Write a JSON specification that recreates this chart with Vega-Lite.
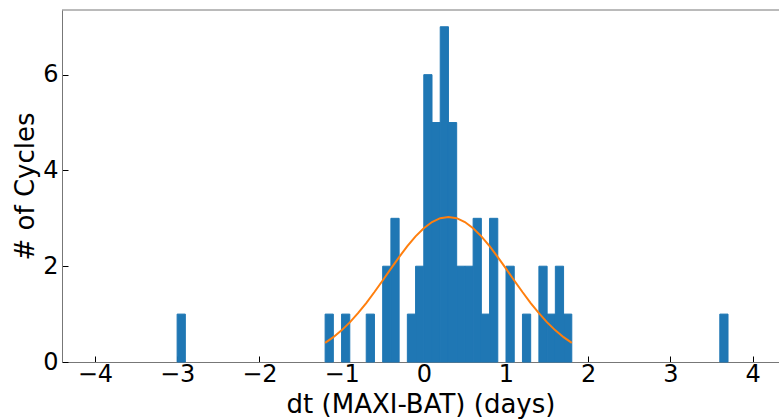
{
  "$schema": "https://vega.github.io/schema/vega-lite/v6.json",
  "autosize": {"type": "none"},
  "width": 717,
  "height": 352,
  "padding": {"left": 62, "top": 10, "right": 0, "bottom": 57},
  "background": "white",
  "config": {
    "view": {"stroke": null},
    "font": "DejaVu Sans",
    "axis": {
      "grid": false,
      "domainColor": "#777777",
      "domainWidth": 1,
      "tickColor": "#000000",
      "tickSize": -6,
      "tickWidth": 1,
      "labelFont": "DejaVu Sans",
      "labelFontSize": 24,
      "labelColor": "#000000",
      "titleFont": "DejaVu Sans",
      "titleFontSize": 26,
      "titleFontWeight": "normal",
      "titleColor": "#000000"
    }
  },
  "datasets": {
    "bins": [
      {"x0": -3.0, "x1": -2.9, "count": 1},
      {"x0": -1.2, "x1": -1.1, "count": 1},
      {"x0": -1.0, "x1": -0.9, "count": 1},
      {"x0": -0.7, "x1": -0.6, "count": 1},
      {"x0": -0.5, "x1": -0.4, "count": 2},
      {"x0": -0.4, "x1": -0.3, "count": 3},
      {"x0": -0.2, "x1": -0.1, "count": 1},
      {"x0": -0.1, "x1": 0.0, "count": 2},
      {"x0": 0.0, "x1": 0.1, "count": 6},
      {"x0": 0.1, "x1": 0.2, "count": 5},
      {"x0": 0.2, "x1": 0.3, "count": 7},
      {"x0": 0.3, "x1": 0.4, "count": 5},
      {"x0": 0.4, "x1": 0.5, "count": 2},
      {"x0": 0.5, "x1": 0.6, "count": 2},
      {"x0": 0.6, "x1": 0.7, "count": 3},
      {"x0": 0.7, "x1": 0.8, "count": 1},
      {"x0": 0.8, "x1": 0.9, "count": 3},
      {"x0": 1.0, "x1": 1.1, "count": 2},
      {"x0": 1.2, "x1": 1.3, "count": 1},
      {"x0": 1.4, "x1": 1.5, "count": 2},
      {"x0": 1.5, "x1": 1.6, "count": 1},
      {"x0": 1.6, "x1": 1.7, "count": 2},
      {"x0": 1.7, "x1": 1.8, "count": 1},
      {"x0": 3.6, "x1": 3.7, "count": 1}
    ],
    "fit": [
      {"x": -1.2, "y": 0.399},
      {"x": -1.1, "y": 0.518},
      {"x": -1.0, "y": 0.661},
      {"x": -0.9, "y": 0.828},
      {"x": -0.8, "y": 1.019},
      {"x": -0.7, "y": 1.231},
      {"x": -0.6, "y": 1.461},
      {"x": -0.5, "y": 1.702},
      {"x": -0.4, "y": 1.949},
      {"x": -0.3, "y": 2.191},
      {"x": -0.2, "y": 2.419},
      {"x": -0.1, "y": 2.623},
      {"x": 0.0, "y": 2.794},
      {"x": 0.1, "y": 2.923},
      {"x": 0.2, "y": 3.003},
      {"x": 0.3, "y": 3.03},
      {"x": 0.4, "y": 3.003},
      {"x": 0.5, "y": 2.923},
      {"x": 0.6, "y": 2.794},
      {"x": 0.7, "y": 2.623},
      {"x": 0.8, "y": 2.419},
      {"x": 0.9, "y": 2.191},
      {"x": 1.0, "y": 1.949},
      {"x": 1.1, "y": 1.702},
      {"x": 1.2, "y": 1.461},
      {"x": 1.3, "y": 1.231},
      {"x": 1.4, "y": 1.019},
      {"x": 1.5, "y": 0.828},
      {"x": 1.6, "y": 0.661},
      {"x": 1.7, "y": 0.518},
      {"x": 1.8, "y": 0.399}
    ],
    "frame": [{"top": 7.35}]
  },
  "layer": [
    {
      "data": {"name": "bins"},
      "mark": {"type": "rect", "color": "#1f77b4", "stroke": "#1f77b4", "strokeWidth": 1, "strokeOpacity": 1},
      "encoding": {
        "x": {
          "field": "x0", "type": "quantitative",
          "scale": {"domain": [-4.4, 4.32], "nice": false, "zero": false},
          "axis": {
            "values": [-4, -3, -2, -1, 0, 1, 2, 3, 4],
            "format": "d",
            "title": "dt (MAXI-BAT) (days)",
            "labelPadding": 6,
            "titleY": 50,
            "titleBaseline": "alphabetic"
          }
        },
        "x2": {"field": "x1"},
        "y": {
          "field": "count", "type": "quantitative",
          "scale": {"domain": [0, 7.35], "nice": false},
          "axis": {
            "values": [0, 2, 4, 6],
            "format": "d",
            "title": "# of Cycles",
            "labelPadding": 10,
            "titleX": -29,
            "titleBaseline": "alphabetic"
          }
        },
        "y2": {"datum": 0}
      }
    },
    {
      "data": {"name": "fit"},
      "mark": {"type": "line", "color": "#ff7f0e", "strokeWidth": 2},
      "encoding": {
        "x": {"field": "x", "type": "quantitative"},
        "y": {"field": "y", "type": "quantitative"}
      }
    },
    {
      "data": {"name": "frame"},
      "mark": {"type": "rule", "color": "#777777", "strokeWidth": 1},
      "encoding": {
        "y": {"field": "top", "type": "quantitative"}
      }
    }
  ]
}
